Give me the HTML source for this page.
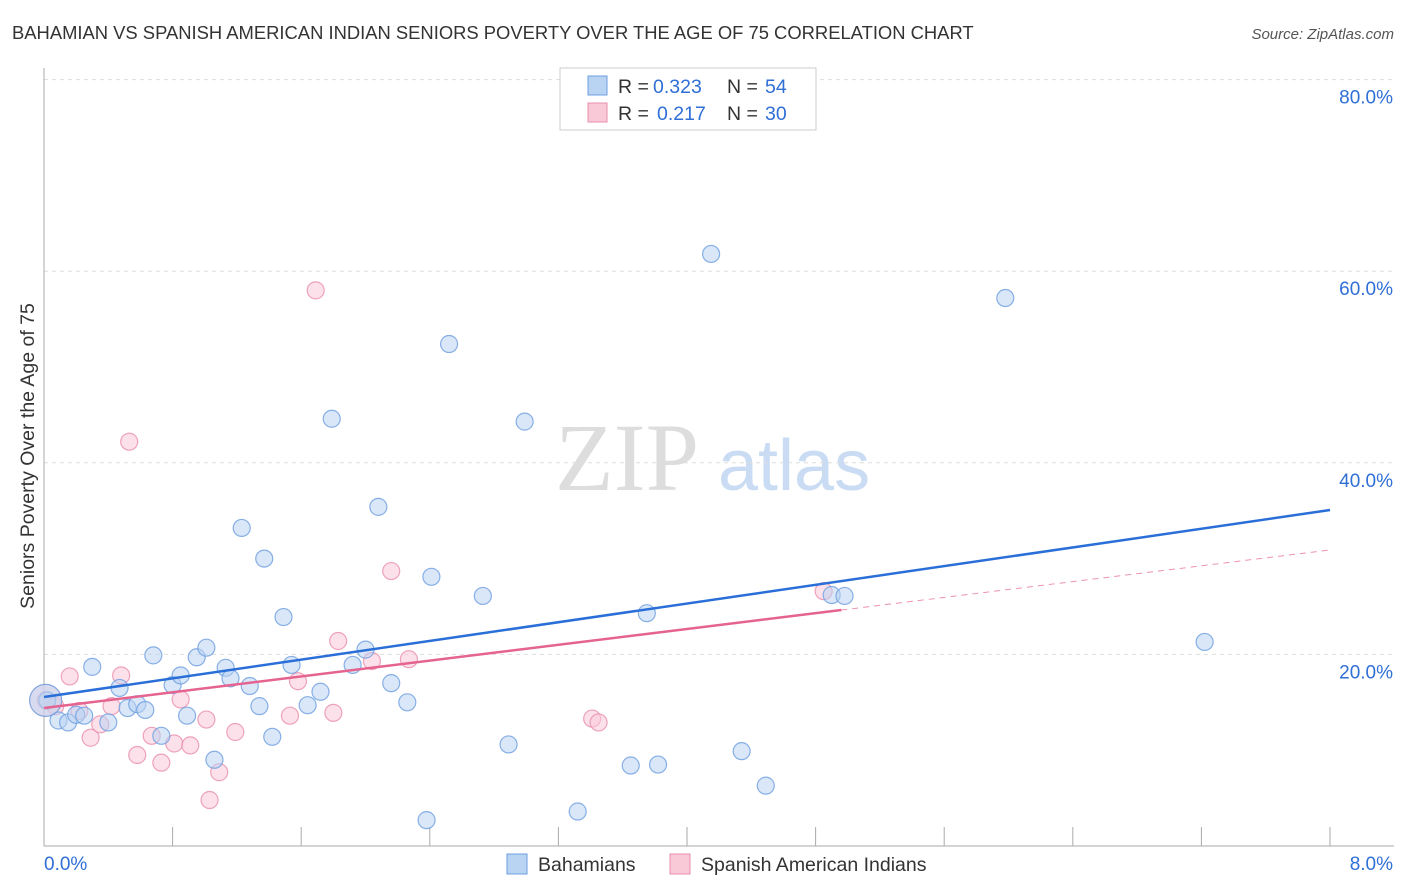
<!DOCTYPE html>
<html><head><meta charset="utf-8">
<style>
body{margin:0;background:#fff;font-family:"Liberation Sans",sans-serif;}
#wrap{position:relative;width:1406px;height:892px;overflow:hidden;}
</style></head>
<body>
<div id="wrap">
<svg id="svg" width="1406" height="892" xmlns="http://www.w3.org/2000/svg">
<text x="12" y="39" font-size="18.4" fill="#333">BAHAMIAN VS SPANISH AMERICAN INDIAN SENIORS POVERTY OVER THE AGE OF 75 CORRELATION CHART</text>
<text x="1394" y="39" font-size="15" fill="#555" font-style="italic" text-anchor="end">Source: ZipAtlas.com</text>
<text x="34" y="456" font-size="19.5" fill="#333" text-anchor="middle" transform="rotate(-90 34 456)">Seniors Poverty Over the Age of 75</text>
<text x="555" y="490" font-size="96" fill="#ddd" font-family="Liberation Serif">ZIP</text>
<text x="718" y="490" font-size="72" fill="#c9dcf3">atlas</text>
<g id="grid"></g>
<g id="marks"></g>
<g>
<rect x="560" y="68" width="256" height="62" fill="#fff" stroke="#ccc"/>
<rect x="588" y="76" width="19" height="19" fill="#b9d3f3" stroke="#6d9ee0"/>
<rect x="588" y="103" width="19" height="19" fill="#f9c9d8" stroke="#ea8fab"/>
<text x="618" y="93" font-size="19.5" fill="#333">R =</text>
<text x="653" y="93" font-size="19.5" fill="#2f6fd6">0.323</text>
<text x="727" y="93" font-size="19.5" fill="#333">N =</text>
<text x="765" y="93" font-size="19.5" fill="#2f6fd6">54</text>
<text x="618" y="120" font-size="19.5" fill="#333">R =</text>
<text x="657" y="120" font-size="19.5" fill="#2f6fd6">0.217</text>
<text x="727" y="120" font-size="19.5" fill="#333">N =</text>
<text x="765" y="120" font-size="19.5" fill="#2f6fd6">30</text>
</g>
<g>
<rect x="507" y="854" width="20" height="20" fill="#b9d3f3" stroke="#6d9ee0"/>
<text x="538" y="871" font-size="19.5" fill="#333">Bahamians</text>
<rect x="670" y="854" width="20" height="20" fill="#f9c9d8" stroke="#ea8fab"/>
<text x="701" y="871" font-size="19.5" fill="#333">Spanish American Indians</text>
</g>
</svg>
</div>
<script>
const xTicks=[0,0.8,1.6,2.4,3.2,4.0,4.8,5.6,6.4,7.2,8.0];
const yTicks=[20,40,60,80];
const blueX=[0.02,0.09,0.15,0.20,0.25,0.30,0.40,0.47,0.52,0.58,0.63,0.68,0.73,0.80,0.85,0.89,0.95,1.01,1.06,1.13,1.16,1.23,1.28,1.34,1.37,1.42,1.49,1.54,1.64,1.72,1.79,1.92,2.00,2.08,2.16,2.26,2.38,2.41,2.52,2.73,2.89,2.99,3.32,3.65,3.75,3.82,4.15,4.34,4.49,4.90,4.98,5.98,7.22,0.01];
const blueY=[15.2,13.1,12.9,13.7,13.6,18.7,12.9,16.5,14.4,14.8,14.2,19.9,11.5,16.8,17.8,13.6,19.7,20.7,9.0,18.6,17.5,33.2,16.7,14.6,30.0,11.4,23.9,18.9,14.7,16.1,44.6,18.9,20.5,35.4,17.0,15.0,2.7,28.1,52.4,26.1,10.6,44.3,3.6,8.4,24.3,8.5,61.8,9.9,6.3,26.2,26.1,57.2,21.3,15.2];
const pinkX=[0.01,0.07,0.16,0.22,0.29,0.35,0.42,0.48,0.53,0.58,0.67,0.73,0.81,0.85,0.91,1.01,1.03,1.09,1.19,1.53,1.58,1.69,1.80,1.83,2.04,2.16,2.27,3.41,3.45,4.85];
const pinkY=[15.2,14.6,17.7,14.1,11.3,12.7,14.6,17.8,42.2,9.5,11.5,8.7,10.7,15.3,10.5,13.2,4.8,7.7,11.9,13.6,17.2,58.0,13.9,21.4,19.3,28.7,19.5,13.3,12.9,26.6];
const blueFit=[15.55,35.07];
const pinkFit=[14.4,30.9,4.96];
const NS="http://www.w3.org/2000/svg";
const X=v=>44+v*160.75, Y=v=>846-v*9.58;
function mk(t,a,p){const e=document.createElementNS(NS,t);for(const k in a)e.setAttribute(k,a[k]);p.appendChild(e);return e;}
const grid=document.getElementById('grid'),marks=document.getElementById('marks');
yTicks.forEach(t=>{
 const l=mk('line',{x1:44,x2:1394,y1:Y(t),y2:Y(t),stroke:'#ddd','stroke-dasharray':'4 4'},grid);
 
 
 const tx=mk('text',{x:1393,y:Y(t)+24,'font-size':19,fill:'#2f6fd6','text-anchor':'end'},grid);
 tx.textContent=t.toFixed(1)+'%';
 
 
});
mk('line',{x1:44,x2:44,y1:68,y2:846,stroke:'#aaa'},grid);
mk('line',{x1:44,x2:1394,y1:846,y2:846,stroke:'#aaa'},grid);
xTicks.forEach((t,i)=>{if(i>0){const l=mk('line',{x1:X(t),x2:X(t),y1:827,y2:846,stroke:'#aaa'},grid);
 
 }});
[[0,44,'start'],[8,1393,'end']].forEach(([v,x,a])=>{const t=mk('text',{x:x,y:870,'font-size':19,fill:'#2f6fd6','text-anchor':a},grid);t.textContent=v.toFixed(1)+'%';
 
 });
function dots(xs,ys,fill,stroke,name){xs.forEach((x,i)=>{const r=(i==xs.length-1&&name=='bahamian-point')?16:8.5;
 const c=mk('circle',{cx:X(x),cy:Y(ys[i]),r:r,fill:fill,'fill-opacity':0.55,stroke:stroke,'stroke-opacity':0.8,'stroke-width':1.2},marks);
 
 });}
dots(pinkX,pinkY,'#f9c9d8','#ea8fab','spanish-point');
const bp=mk('circle',{cx:X(pinkX[0]),cy:Y(pinkY[0]),r:16,fill:'#f9c9d8','fill-opacity':0.5,stroke:'#ea8fab','stroke-opacity':0.6},marks);


dots(blueX,blueY,'#b9d3f3','#6d9ee0','bahamian-point');
const bl=mk('line',{x1:X(0),y1:Y(blueFit[0]),x2:X(8),y2:Y(blueFit[1]),stroke:'#2a6fd8','stroke-width':2.5},marks);


const pe=pinkFit[0]+(pinkFit[1]-pinkFit[0])*pinkFit[2]/8;
const pl=mk('line',{x1:X(0),y1:Y(pinkFit[0]),x2:X(pinkFit[2]),y2:Y(pe),stroke:'#e5638f','stroke-width':2.5},marks);


const pd=mk('line',{x1:X(pinkFit[2]),y1:Y(pe),x2:X(8),y2:Y(pinkFit[1]),stroke:'#e5638f','stroke-width':1,'stroke-dasharray':'6 5','stroke-opacity':0.7},marks);


</script>
</body></html>
